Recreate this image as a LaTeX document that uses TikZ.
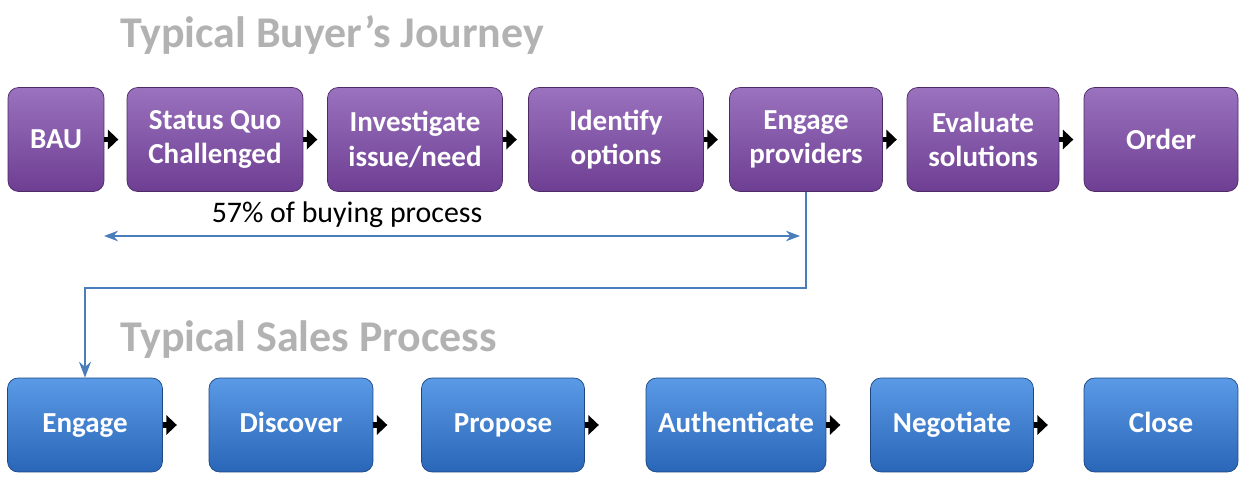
\documentclass[tikz,border=0pt]{standalone}
\usepackage{fontspec}
\setmainfont{Carlito}
\usetikzlibrary{arrows.meta,positioning}
\definecolor{purpletop}{HTML}{9A72BE}
\definecolor{purplebot}{HTML}{6E3E92}
\definecolor{bluetop}{HTML}{5A9AE6}
\definecolor{bluebot}{HTML}{2A66B8}
\definecolor{linkblue}{HTML}{4A7EBB}
\begin{document}
\begin{tikzpicture}[x=0.02cm,y=-0.02cm,
    buy node/.style={draw=purplebot!70!black,rounded corners=6pt,top color=purpletop,bottom color=purplebot,
      text=white,font=\bfseries\fontsize{16.5}{19.5}\selectfont,align=center,minimum height=2.08cm,inner sep=0pt,
      yshift=-2pt},
    sale node/.style={draw=bluebot!70!black,rounded corners=6pt,top color=bluetop,bottom color=bluebot,
      text=white,font=\bfseries\fontsize{16.5}{19.5}\selectfont,align=center,minimum height=1.88cm,inner sep=0pt,
      text height=12pt,text depth=4pt},
    step tip/.style={-{Triangle[length=6pt,width=11pt]},line width=3pt,black},
    title/.style={anchor=west,text=gray!60,font=\bfseries\fontsize{25}{29}\selectfont}]
  \useasboundingbox (0,0) rectangle (1246,486);

  \node[title] (t1) at (114,35) {Typical Buyer’s Journey};
  \node[title] (t2) at (114,340) {Typical Sales Process};

  % buyer's journey
  \node[buy node,minimum width=1.92cm] (bau) at (56,136) {BAU};
  \node[buy node,minimum width=3.52cm] (sq) at (215,136) {Status Quo\\Challenged};
  \node[buy node,minimum width=3.5cm] (inv) at (415,136) {Investigate\\issue/need};
  \node[buy node,minimum width=3.5cm] (ido) at (616,136) {Identify\\options};
  \node[buy node,minimum width=3.06cm] (eng) at (806,136) {Engage\\providers};
  \node[buy node,minimum width=3.04cm] (eva) at (983,136) {Evaluate\\solutions};
  \node[buy node,minimum width=3.08cm] (ord) at (1161,136) {Order};

  % sales process
  \node[sale node,minimum width=3.1cm] (sen) at (85,425) {Engage};
  \node[sale node,minimum width=3.28cm] (dis) at (291,425) {Discover};
  \node[sale node,minimum width=3.26cm] (pro) at (503,425) {Propose};
  \node[sale node,minimum width=3.6cm] (aut) at (736,425) {Authenticate};
  \node[sale node,minimum width=3.26cm] (neg) at (952,425) {Negotiate};
  \node[sale node,minimum width=3.08cm] (clo) at (1161,425) {Close};

  \foreach \a in {bau,sq,inv,ido,eng,eva}
    \draw[step tip] (\a.east) -- ++(14,0);
  \foreach \a in {sen,dis,pro,aut,neg}
    \draw[step tip] (\a.east) -- ++(14,0);

  \coordinate (pl) at (104,236);
  \coordinate (pr) at (800,236);
  \draw[linkblue,line width=1.2pt,{Stealth[length=8pt]}-{Stealth[length=8pt]}] (pl) -- node[above=1pt,text=black,font=\fontsize{17}{20}\selectfont,xshift=-2.1cm] {57\% of buying process} (pr);
  \draw[linkblue,line width=1.5pt,-{Stealth[length=9pt]}] (eng.south) -- ++(0,96) -| (sen.north);
\end{tikzpicture}
\end{document}
